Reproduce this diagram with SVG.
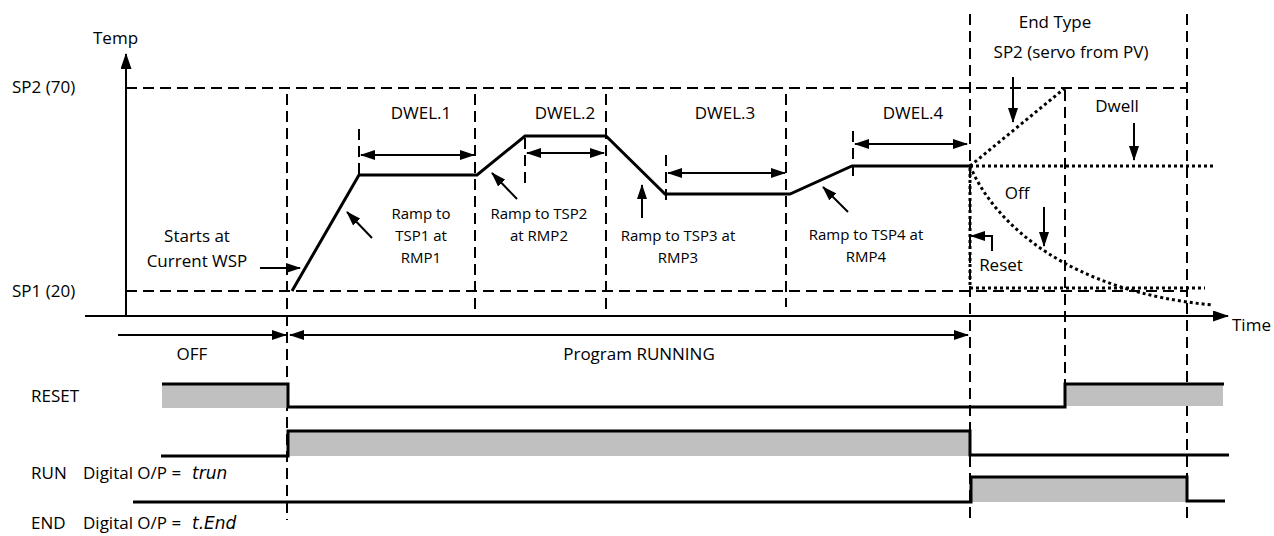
<svg xmlns="http://www.w3.org/2000/svg" width="1274" height="536" viewBox="0 0 1274 536">
<style>
text{font-family:"Open Sans","Liberation Sans",sans-serif;font-size:17px;fill:#000}
.s{font-size:15px}
.m{text-anchor:middle}
.seg{font-family:"DejaVu Sans","Liberation Sans",sans-serif;font-style:italic;font-size:17px}
.dash{fill:none;stroke:#000;stroke-width:2;stroke-dasharray:11 6}
.dot{fill:none;stroke:#000;stroke-width:3;stroke-dasharray:3 3}
.prof{fill:none;stroke:#000;stroke-width:3;stroke-linejoin:miter}
.ax{fill:none;stroke:#000;stroke-width:2}
.ar{fill:none;stroke:#000;stroke-width:2;marker-end:url(#ah)}
.ar2{fill:none;stroke:#000;stroke-width:2;marker-end:url(#ah);marker-start:url(#ah)}
.wave{fill:none;stroke:#000;stroke-width:3}
.gray{fill:#c0c0c0;stroke:none}
</style>
<defs>
<marker id="ah" markerUnits="userSpaceOnUse" markerWidth="15" markerHeight="10" refX="14" refY="5" orient="auto-start-reverse">
<path d="M0,0 L15,5 L0,10 z" fill="#000"/>
</marker>
<marker id="axh" markerUnits="userSpaceOnUse" markerWidth="16" markerHeight="11" refX="15" refY="5.5" orient="auto">
<path d="M0,0 L16,5.5 L0,11 z" fill="#000"/>
</marker>
</defs>
<rect width="1274" height="536" fill="#fff"/>

<g id="guides">
<path class="dash" d="M126,88 H1187"/>
<path class="dash" d="M126,291 H1187"/>
<path class="dash" d="M287,94 V520"/>
<path class="dash" d="M475,94 V315"/>
<path class="dash" d="M606,94 V315"/>
<path class="dash" d="M786,94 V307"/>
<path class="dash" d="M970,14 V520"/>
<path class="dash" d="M1065,90 V408"/>
<path class="dash" d="M1187,14 V520"/>
<path class="dash" d="M359,129 V175"/>
<path class="dash" d="M525,138 V183"/>
<path class="dash" d="M666,155 V202"/>
<path class="dash" d="M853,131 V178"/>
</g>

<g id="axes">
<path class="ax" d="M126,316 V54" style="marker-end:url(#axh)"/>
<path class="ax" d="M85,316 H1228" style="marker-end:url(#axh)"/>
<text x="93" y="44">Temp</text>
<text x="12" y="93">SP2 (70)</text>
<text x="12" y="297">SP1 (20)</text>
<text x="1232" y="331">Time</text>
</g>

<g id="profile">
<path class="prof" d="M292,291 L359,175 L477,175 L525,136 L606,136 L665,194 L790,194 L852,166 L970,166"/>
</g>

<g id="endtype">
<path class="dot" d="M970,166 L1065,88"/>
<path class="dot" d="M970,166 H1215"/>
<path class="dot" d="M970,166 C995,225 1070,292 1213,305"/>
<path class="dot" d="M970,168 V288 H1205"/>
<text class="m" x="1055" y="28">End Type</text>
<text class="m" x="1071" y="58">SP2 (servo from PV)</text>
<text class="m" x="1117" y="112">Dwell</text>
<text class="m" x="1017" y="199">Off</text>
<text class="m" x="1001" y="271">Reset</text>
</g>

<g id="connectors">
<path class="ar2" d="M361,155 H474"/>
<path class="ar2" d="M527,153 H604"/>
<path class="ar2" d="M668,173 H785"/>
<path class="ar2" d="M855,144 H967"/>
<path class="ar" d="M118,335 H286"/>
<path class="ar2" d="M290,335 H968"/>
<path class="ar" d="M260,268 H300"/>
<path class="ar" d="M372,238 L347,212"/>
<path class="ar" d="M517,199 L492,173"/>
<path class="ar" d="M642,218 V185"/>
<path class="ar" d="M848,212 L823,187"/>
<path class="ar" d="M1013,77 V122"/>
<path class="ar" d="M1134,123 V160"/>
<path class="ar" d="M1044,207 V246"/>
<path class="ar" d="M992,251 V236 H971"/>
</g>

<g id="labels">
<text class="m" x="421" y="119">DWEL.1</text>
<text class="m" x="565" y="119">DWEL.2</text>
<text class="m" x="725" y="119">DWEL.3</text>
<text class="m" x="913" y="119">DWEL.4</text>
<text class="m" x="197" y="242">Starts at</text>
<text class="m" x="197" y="267">Current WSP</text>
<text class="m s" x="421" y="219">Ramp to</text>
<text class="m s" x="421" y="241">TSP1 at</text>
<text class="m s" x="421" y="263">RMP1</text>
<text class="m s" x="539" y="219">Ramp to TSP2</text>
<text class="m s" x="539" y="241">at RMP2</text>
<text class="m s" x="678" y="241">Ramp to TSP3 at</text>
<text class="m s" x="678" y="263">RMP3</text>
<text class="m s" x="866" y="240">Ramp to TSP4 at</text>
<text class="m s" x="866" y="262">RMP4</text>
<text class="m" x="192" y="360">OFF</text>
<text class="m" x="639" y="360">Program RUNNING</text>
</g>

<g id="reset">
<rect class="gray" x="162" y="384" width="125" height="24"/>
<rect class="gray" x="1066" y="384" width="157" height="22"/>
<path class="wave" d="M162,384 H288 V407 H1065 V384 H1224"/>
<text x="31" y="402">RESET</text>
</g>

<g id="run">
<rect class="gray" x="289" y="431" width="680" height="25"/>
<path class="wave" d="M161,456 H288 V431 H970 V455 H1229"/>
<text x="31" y="479">RUN</text>
<text x="83" y="479">Digital O/P =</text>
<text class="seg" x="192" y="479">trun</text>
</g>

<g id="end">
<rect class="gray" x="972" y="477" width="214" height="25"/>
<path class="wave" d="M133,502 H971 V477 H1187 V501 H1225"/>
<text x="31" y="529">END</text>
<text x="83" y="529">Digital O/P =</text>
<text class="seg" x="192" y="529">t.End</text>
</g>
</svg>
